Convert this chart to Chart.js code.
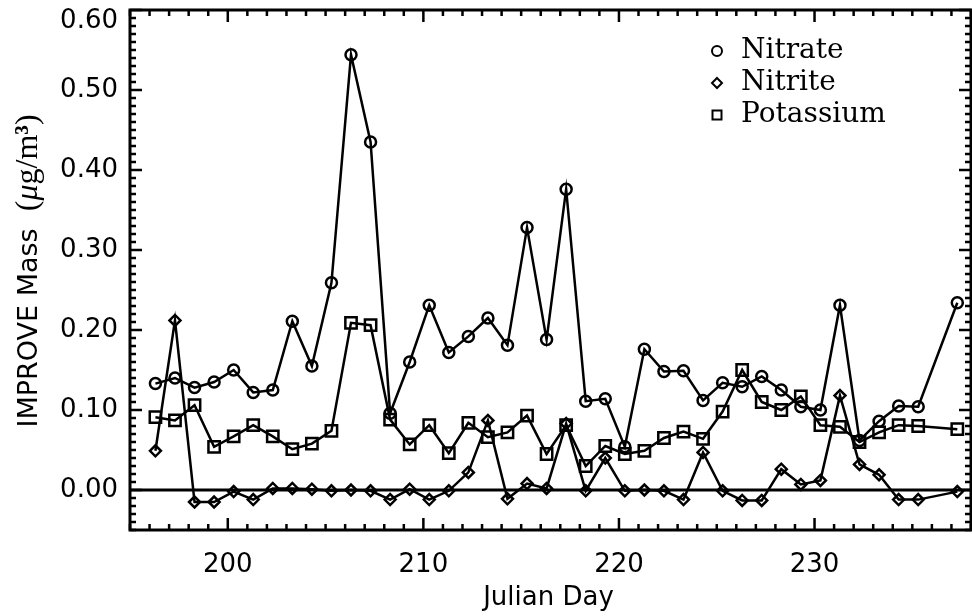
<!DOCTYPE html>
<html>
<head>
<meta charset="utf-8">
<script src="https://cdn.jsdelivr.net/npm/chart.js@4.4.0/dist/chart.umd.min.js"></script>
<style>
  body { margin: 0; background: #fff; }
  #wrap { width: 972px; height: 616px; }
</style>
</head>
<body>
<div id="wrap"><canvas id="chart" width="972" height="616"></canvas></div>
<script>
// sample times (Julian day), no sample on day 236
const sampleDays = [196.3, 197.3, 198.3, 199.3, 200.3, 201.3, 202.3, 203.3, 204.3, 205.3,
    206.3, 207.3, 208.3, 209.3, 210.3, 211.3, 212.3, 213.3, 214.3, 215.3,
    216.3, 217.3, 218.3, 219.3, 220.3, 221.3, 222.3, 223.3, 224.3, 225.3,
    226.3, 227.3, 228.3, 229.3, 230.3, 231.3, 232.3, 233.3, 234.3, 235.3, 237.3];

const nitrate = [0.133, 0.140, 0.128, 0.135, 0.150, 0.122, 0.125, 0.211, 0.155, 0.259,
    0.544, 0.435, 0.096, 0.160, 0.231, 0.172, 0.192, 0.215, 0.181, 0.328,
    0.188, 0.376, 0.111, 0.114, 0.054, 0.176, 0.148, 0.149, 0.112, 0.134,
    0.129, 0.142, 0.125, 0.104, 0.100, 0.231, 0.062, 0.086, 0.105, 0.104, 0.234];

const nitrite = [0.049, 0.212, -0.015, -0.015, -0.002, -0.012, 0.002, 0.002, 0.001, -0.001,
    0.000, -0.001, -0.012, 0.001, -0.012, -0.001, 0.022, 0.087, -0.011, 0.008,
    0.002, 0.083, -0.001, 0.040, -0.001, 0.000, -0.001, -0.012, 0.047, -0.001,
    -0.013, -0.013, 0.026, 0.007, 0.012, 0.118, 0.032, 0.019, -0.012, -0.012, -0.002];

const potassium = [0.091, 0.087, 0.106, 0.054, 0.067, 0.081, 0.067, 0.051, 0.058, 0.074,
    0.209, 0.206, 0.088, 0.057, 0.081, 0.046, 0.084, 0.066, 0.072, 0.093,
    0.045, 0.081, 0.030, 0.055, 0.045, 0.049, 0.065, 0.073, 0.064, 0.098,
    0.150, 0.110, 0.100, 0.117, 0.081, 0.079, 0.060, 0.072, 0.081, 0.080, 0.076];

const xTickLabels = [200, 210, 220, 230];
const yTickLabels = [0.0, 0.1, 0.2, 0.3, 0.4, 0.5, 0.6];

const INK = "#000000";
const TICK_FONT = "DejaVu Sans";

function toPoints(values) {
    return sampleDays.map((d, i) => ({ x: d, y: values[i] }));
}

function series(label, values, style, radius) {
    return {
        label: label,
        data: toPoints(values),
        borderColor: INK,
        borderWidth: 2.5,
        pointStyle: style,
        pointRadius: radius,
        pointHoverRadius: radius,
        pointBorderColor: INK,
        pointBackgroundColor: "rgba(0,0,0,0)",
        pointBorderWidth: 2.5,
        tension: 0
    };
}

// box, inward ticks on all four sides and the zero line
const frameTicks = {
    id: "frameTicks",
    beforeDatasetsDraw(chart) {
        const { ctx, chartArea: a, scales: { x, y } } = chart;
        ctx.save();
        ctx.strokeStyle = INK;

        ctx.lineWidth = 3;
        const y0 = y.getPixelForValue(0);
        ctx.beginPath();
        ctx.moveTo(a.left, y0);
        ctx.lineTo(a.right, y0);
        ctx.stroke();

        ctx.lineWidth = 2.5;
        ctx.beginPath();
        for (let d = Math.ceil(x.min); d <= x.max; d++) {
            const px = x.getPixelForValue(d);
            const len = d % 10 === 0 ? 12 : 6;
            ctx.moveTo(px, a.bottom);
            ctx.lineTo(px, a.bottom - len);
            ctx.moveTo(px, a.top);
            ctx.lineTo(px, a.top + len);
        }
        for (let k = Math.round(y.min * 100); k <= Math.round(y.max * 100); k++) {
            const py = y.getPixelForValue(k / 100);
            const len = k % 10 === 0 ? 12 : 6;
            ctx.moveTo(a.left, py);
            ctx.lineTo(a.left + len, py);
            ctx.moveTo(a.right, py);
            ctx.lineTo(a.right - len, py);
        }
        ctx.stroke();

        ctx.lineWidth = 3;
        ctx.strokeRect(a.left, a.top, a.right - a.left, a.bottom - a.top);
        ctx.restore();
    },
    afterDraw(chart) {
        const { ctx, chartArea: a } = chart;
        ctx.save();
        ctx.fillStyle = INK;
        ctx.strokeStyle = INK;

        // legend in the upper right corner
        const marks = ["circle", "rectRot", "rect"];
        chart.data.datasets.forEach((ds, i) => {
            const cy = 51 + i * 32;
            const cx = 717;
            ctx.lineWidth = 2;
            ctx.beginPath();
            if (marks[i] === "circle") {
                ctx.arc(cx, cy, 5, 0, Math.PI * 2);
            } else if (marks[i] === "rectRot") {
                ctx.moveTo(cx, cy - 5);
                ctx.lineTo(cx + 5, cy);
                ctx.lineTo(cx, cy + 5);
                ctx.lineTo(cx - 5, cy);
                ctx.closePath();
            } else {
                ctx.rect(cx - 4.5, cy - 4.5, 9, 9);
            }
            ctx.stroke();
            ctx.font = "28px 'DejaVu Serif'";
            ctx.textAlign = "left";
            ctx.textBaseline = "middle";
            ctx.fillText(ds.label, 741, cy);
        });

        // x title
        ctx.font = "26px " + TICK_FONT;
        ctx.textAlign = "center";
        ctx.textBaseline = "alphabetic";
        ctx.fillText("Julian Day", (a.left + a.right) / 2 - 2, 605);

        // y title, mixed sans and serif pieces
        const parts = [
            { t: "IMPROVE Mass  ", f: "27px DejaVu Sans" },
            { t: "(", f: "32px 'Liberation Serif'" },
            { t: "\u03bc", f: "italic 32px 'Liberation Serif'" },
            { t: "g/m", f: "32px 'Liberation Serif'" },
            { t: "\u00b3", f: "bold 32px 'Liberation Serif'" },
            { t: ")", f: "32px 'Liberation Serif'" }
        ];
        let total = 0;
        parts.forEach(p => { ctx.font = p.f; p.w = ctx.measureText(p.t).width; total += p.w; });
        ctx.translate(37, (a.top + a.bottom) / 2 + 1);
        ctx.rotate(-Math.PI / 2);
        ctx.textAlign = "left";
        let pos = -total / 2;
        parts.forEach(p => {
            ctx.font = p.f;
            ctx.fillText(p.t, pos, 0);
            pos += p.w;
        });
        ctx.restore();
    }
};

new Chart(document.getElementById("chart").getContext("2d"), {
    type: "line",
    data: {
        datasets: [
            series("Nitrate", nitrate, "circle", 5.5),
            series("Nitrite", nitrite, "rectRot", 5.5),
            series("Potassium", potassium, "rect", 8)
        ]
    },
    options: {
        responsive: false,
        animation: false,
        layout: { autoPadding: false, padding: { top: 10, right: 1, left: 0, bottom: 0 } },
        plugins: {
            legend: { display: false },
            tooltip: { enabled: false }
        },
        scales: {
            x: {
                type: "linear",
                min: 195,
                max: 238,
                grid: { display: false, drawTicks: false },
                border: { display: false },
                ticks: {
                    color: INK,
                    padding: 20,
                    maxRotation: 0,
                    font: { family: TICK_FONT, size: 26 }
                },
                afterBuildTicks: axis => { axis.ticks = xTickLabels.map(v => ({ value: v })); },
                afterFit: axis => {
                    axis.height = 86;
                    axis.paddingLeft = 0;
                    axis.paddingRight = 0;
                }
            },
            y: {
                min: -0.05,
                max: 0.60,
                grid: { display: false, drawTicks: false },
                border: { display: false },
                ticks: {
                    color: INK,
                    padding: 12,
                    font: { family: TICK_FONT, size: 26, lineHeight: 0.9 },
                    // the top label sits just below the frame
                    callback: v => v === yTickLabels[yTickLabels.length - 1] ? ["", v.toFixed(2)] : v.toFixed(2)
                },
                afterBuildTicks: axis => { axis.ticks = yTickLabels.map(v => ({ value: v })); },
                afterFit: axis => {
                    axis.width = 130;
                    axis.paddingTop = 0;
                    axis.paddingBottom = 0;
                }
            }
        }
    },
    plugins: [frameTicks]
});
</script>
</body>
</html>
